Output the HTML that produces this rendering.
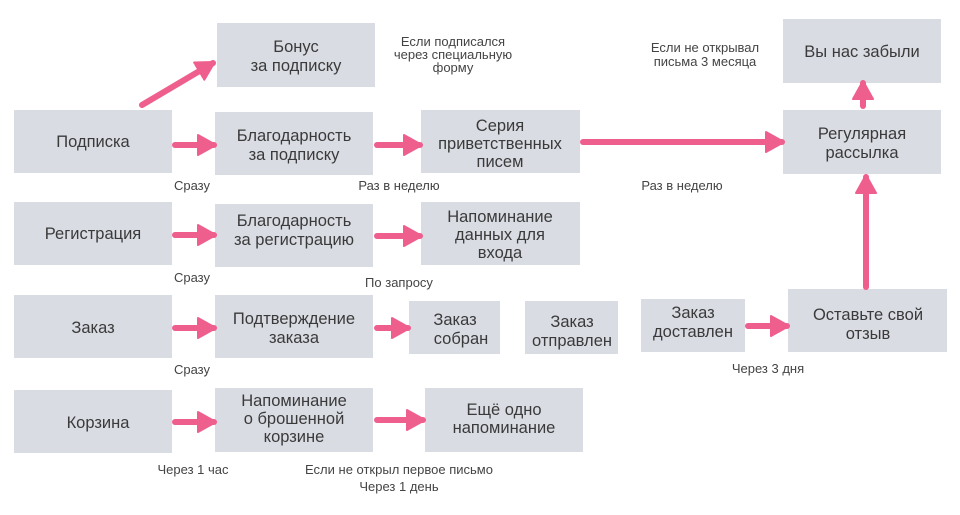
<!DOCTYPE html>
<html><head><meta charset="utf-8"><style>
html,body{margin:0;padding:0;background:#fff;}
svg{display:block;}
text{font-family:"Liberation Sans","DejaVu Sans",sans-serif;fill:#3a3a3a;text-anchor:middle;}
.b{font-size:16.5px;}
.s{font-size:13px;fill:#444;}
rect{fill:#d9dce3;}
.a{stroke:#ef5f8d;stroke-width:6;stroke-linecap:round;fill:none;}
</style></head><body>
<svg width="960" height="515" viewBox="0 0 960 515" xmlns="http://www.w3.org/2000/svg">
<defs><marker id="m" markerUnits="userSpaceOnUse" markerWidth="22" markerHeight="22" refX="17" refY="11" orient="auto"><path d="M1,1 L19,11 L1,21 Z" fill="#ef5f8d" stroke="#ef5f8d" stroke-width="2" stroke-linejoin="round"/></marker></defs>
<rect x="217" y="23" width="158" height="64"/>
<rect x="14" y="110" width="158" height="63"/>
<rect x="215" y="112" width="158" height="63"/>
<rect x="421" y="110" width="159" height="63"/>
<rect x="783" y="110" width="158" height="64"/>
<rect x="783" y="19" width="158" height="64"/>
<rect x="14" y="202" width="158" height="63"/>
<rect x="215" y="204" width="158" height="63"/>
<rect x="421" y="202" width="159" height="63"/>
<rect x="14" y="295" width="158" height="63"/>
<rect x="215" y="295" width="158" height="63"/>
<rect x="409" y="301" width="91" height="53"/>
<rect x="525" y="301" width="93" height="53"/>
<rect x="641" y="299" width="104" height="53"/>
<rect x="788" y="289" width="159" height="63"/>
<rect x="14" y="390" width="158" height="63"/>
<rect x="215" y="388" width="158" height="64"/>
<rect x="425" y="388" width="158" height="64"/>
<text class="b" x="296" y="52">Бонус</text><text class="b" x="296" y="71">за подписку</text>
<text class="b" x="93" y="147">Подписка</text>
<text class="b" x="294" y="141">Благодарность</text><text class="b" x="294" y="160">за подписку</text>
<text class="b" x="500" y="131">Серия</text><text class="b" x="500" y="149">приветственных</text><text class="b" x="500" y="167">писем</text>
<text class="b" x="862" y="139">Регулярная</text><text class="b" x="862" y="158">рассылка</text>
<text class="b" x="862" y="57">Вы нас забыли</text>
<text class="b" x="93" y="239">Регистрация</text>
<text class="b" x="294" y="226">Благодарность</text><text class="b" x="294" y="245">за регистрацию</text>
<text class="b" x="500" y="222">Напоминание</text><text class="b" x="500" y="240">данных для</text><text class="b" x="500" y="258">входа</text>
<text class="b" x="93" y="333">Заказ</text>
<text class="b" x="294" y="324">Подтверждение</text><text class="b" x="294" y="343">заказа</text>
<text class="b" x="455" y="325">Заказ</text><text class="b" x="461" y="344">собран</text>
<text class="b" x="572" y="327">Заказ</text><text class="b" x="572" y="346">отправлен</text>
<text class="b" x="693" y="318">Заказ</text><text class="b" x="693" y="337">доставлен</text>
<text class="b" x="868" y="320">Оставьте свой</text><text class="b" x="868" y="339">отзыв</text>
<text class="b" x="98" y="428">Корзина</text>
<text class="b" x="294" y="406">Напоминание</text><text class="b" x="294" y="424">о брошенной</text><text class="b" x="294" y="442">корзине</text>
<text class="b" x="504" y="415">Ещё одно</text><text class="b" x="504" y="433">напоминание</text>
<text class="s" x="453" y="46">Если подписался</text><text class="s" x="453" y="59">через специальную</text><text class="s" x="453" y="72">форму</text>
<text class="s" x="705" y="52">Если не открывал</text><text class="s" x="705" y="66">письма 3 месяца</text>
<text class="s" x="192" y="190">Сразу</text>
<text class="s" x="399" y="190">Раз в неделю</text>
<text class="s" x="682" y="190">Раз в неделю</text>
<text class="s" x="192" y="282">Сразу</text>
<text class="s" x="399" y="287">По запросу</text>
<text class="s" x="192" y="374">Сразу</text>
<text class="s" x="768" y="373">Через 3 дня</text>
<text class="s" x="193" y="474">Через 1 час</text>
<text class="s" x="399" y="474">Если не открыл первое письмо</text>
<text class="s" x="399" y="491">Через 1 день</text>
<line class="a" x1="142" y1="105" x2="213" y2="63" marker-end="url(#m)"/>
<line class="a" x1="175" y1="145" x2="214" y2="145" marker-end="url(#m)"/>
<line class="a" x1="377" y1="145" x2="420" y2="145" marker-end="url(#m)"/>
<line class="a" x1="583" y1="142" x2="782" y2="142" marker-end="url(#m)"/>
<line class="a" x1="863" y1="106" x2="863" y2="83" marker-end="url(#m)"/>
<line class="a" x1="866" y1="287" x2="866" y2="177" marker-end="url(#m)"/>
<line class="a" x1="175" y1="235" x2="214" y2="235" marker-end="url(#m)"/>
<line class="a" x1="377" y1="236" x2="420" y2="236" marker-end="url(#m)"/>
<line class="a" x1="175" y1="328" x2="214" y2="328" marker-end="url(#m)"/>
<line class="a" x1="377" y1="328" x2="408" y2="328" marker-end="url(#m)"/>
<line class="a" x1="748" y1="326" x2="787" y2="326" marker-end="url(#m)"/>
<line class="a" x1="175" y1="422" x2="214" y2="422" marker-end="url(#m)"/>
<line class="a" x1="377" y1="420" x2="423" y2="420" marker-end="url(#m)"/>
</svg>
</body></html>
